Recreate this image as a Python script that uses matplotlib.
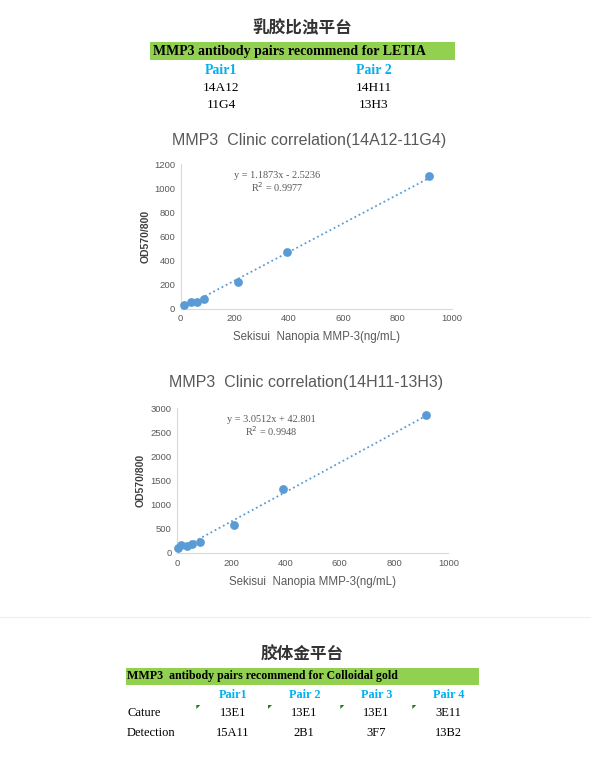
import matplotlib
matplotlib.use("Agg")
import matplotlib.pyplot as plt
from matplotlib.patches import Rectangle, Polygon
from matplotlib.lines import Line2D
import numpy as np

# ---------------- data ----------------
conc1 = [13, 38, 59, 87, 210, 391, 917]
od1 = [31, 55, 52, 80, 222, 474, 1100]
slope1, intercept1, r2_1 = 1.1873, -2.5236, 0.9977

conc2 = [2, 15, 38, 56, 85, 211, 392, 917]
od2 = [97, 160, 140, 185, 230, 585, 1320, 2870]
slope2, intercept2, r2_2 = 3.0512, 42.801, 0.9948

xticks = [0, 200, 400, 600, 800, 1000]
yticks1 = [0, 200, 400, 600, 800, 1000, 1200]
yticks2 = [0, 500, 1000, 1500, 2000, 2500, 3000]

letia_pairs = ["Pair1", "Pair 2"]
letia_capture = ["14A12", "14H11"]
letia_detect = ["11G4", "13H3"]

gold_pairs = ["Pair1", "Pair 2", "Pair 3", "Pair 4"]
gold_capture = ["13E1", "13E1", "13E1", "3E11"]
gold_detect = ["15A11", "2B1", "3F7", "13B2"]
gold_rows = ["Cature", "Detection"]

# ---------------- style ----------------
W, H = 591, 760
fig = plt.figure(figsize=(W / 100, H / 100), dpi=100)
fig.patch.set_facecolor("white")

BLUE = "#5B9BD5"
GRAY = "#595959"
GREEN = "#92D050"
CYAN = "#00B0F0"
SERIF = ["Liberation Serif", "DejaVu Serif"]
SANS = ["Liberation Sans", "DejaVu Sans"]
CJK = ["Noto Sans CJK SC", "DejaVu Sans"]


def fx(x):
    return x / W


def fy(y):
    return 1 - y / H


def ftext(x, y, s, **kw):
    kw.setdefault("ha", "center")
    kw.setdefault("va", "center")
    fig.text(fx(x), fy(y), s, **kw)


def frect(x0, y0, x1, y1, color):
    fig.add_artist(Rectangle((fx(x0), fy(y1)), fx(x1) - fx(x0), fy(y0) - fy(y1),
                             transform=fig.transFigure, facecolor=color,
                             edgecolor="none", zorder=0))


# ---------------- top section (LETIA) ----------------
ftext(302.5, 28, "乳胶比浊平台", family=CJK, fontsize=12, fontweight="bold", color="#333333")
frect(150, 42, 455, 59.5, GREEN)
ftext(153, 51.5, "MMP3 antibody pairs recommend for LETIA", ha="left",
      family=SERIF, fontsize=10, fontweight="bold", color="black")
letia_x = [221, 373.5]
for i, x in enumerate(letia_x):
    ftext(x, 70, letia_pairs[i], family=SERIF, fontsize=10, fontweight="bold", color=CYAN)
    ftext(x, 88, letia_capture[i], family=SERIF, fontsize=9.6, color="black")
    ftext(x, 105.5, letia_detect[i], family=SERIF, fontsize=9.6, color="black")


# ---------------- charts ----------------
def make_chart(rect_px, conc, od, slope, intercept, r2, ylim, yticks, title,
               title_xy, eq_xy, ylabel_x, xlabel_y):
    left, right, bottom, top = rect_px
    ax = fig.add_axes([fx(left), fy(bottom), fx(right) - fx(left), fy(top) - fy(bottom)])
    ax.set_xlim(0, 1000)
    ax.set_ylim(*ylim)
    ax.set_xticks(xticks)
    ax.set_yticks(yticks)
    ax.tick_params(length=0, labelsize=6.8, labelcolor=GRAY, pad=4)
    for lab in ax.get_xticklabels() + ax.get_yticklabels():
        lab.set_family(SANS)
    for side in ["top", "right"]:
        ax.spines[side].set_visible(False)
    for side in ["left", "bottom"]:
        ax.spines[side].set_color("#D9D9D9")
        ax.spines[side].set_linewidth(0.8)
    ax.patch.set_alpha(0)
    xs = np.array([min(conc), max(conc)])
    ax.plot(xs, slope * xs + intercept, color=BLUE, lw=1.3,
            linestyle=(0, (1, 1.6)), zorder=2)
    sc = ax.scatter(conc, od, s=40, color=BLUE, zorder=3, linewidths=0)
    sc.set_clip_on(False)

    ftext(title_xy[0], title_xy[1], title, family=SANS, fontsize=11.5, color=GRAY)
    sign = "-" if intercept < 0 else "+"
    ftext(eq_xy[0], eq_xy[1], f"y = {slope}x {sign} {abs(intercept)}",
          family=SERIF, fontsize=7.4, color=GRAY)
    ftext(eq_xy[0], eq_xy[1] + 12.5, f"R$^2$ = {r2}", family=SERIF, fontsize=7.4,
          color=GRAY)
    ftext(ylabel_x, (top + bottom) / 2, "OD570/800", family=SANS, fontsize=7.5,
          fontweight="bold", color="#404040", rotation=90)
    ftext((left + right) / 2, xlabel_y, "Sekisui  Nanopia MMP-3(ng/mL)",
          family=SANS, fontsize=8.3, color=GRAY)
    return ax


make_chart((180.7, 451.7, 308.7, 164.3), conc1, od1, slope1, intercept1, r2_1,
           (0, 1200), yticks1, "MMP3  Clinic correlation(14A12-11G4)", (309.5, 140),
           (277, 175), 146, 337)
make_chart((177, 448.3, 553, 408.3), conc2, od2, slope2, intercept2, r2_2,
           (0, 3000), yticks2, "MMP3  Clinic correlation(14H11-13H3)", (306, 383),
           (271, 419), 141, 582)

# separator
fig.add_artist(Line2D([0, 1], [fy(617), fy(617)], transform=fig.transFigure,
                      color="#EEEEEE", lw=0.8))

# ---------------- bottom section (Colloidal gold) ----------------
ftext(302.5, 655, "胶体金平台", family=CJK, fontsize=12, fontweight="bold", color="#333333")
frect(126, 668, 479.3, 685, GREEN)
ftext(127, 676, "MMP3  antibody pairs recommend for Colloidal gold", ha="left",
      family=SERIF, fontsize=8.6, fontweight="bold", color="black")
gold_x = [232.7, 304.3, 376.5, 448.3]
tri_x = [198.3, 270, 342.3, 414.3]
for i, x in enumerate(gold_x):
    ftext(x, 695, gold_pairs[i], family=SERIF, fontsize=8.8, fontweight="bold", color=CYAN)
    ftext(x, 713.5, gold_capture[i], family=SERIF, fontsize=9, color="black")
    ftext(x, 732.5, gold_detect[i], family=SERIF, fontsize=9, color="black")
    tx = tri_x[i] - 2
    ty = 705
    fig.add_artist(Polygon([(fx(tx), fy(ty)), (fx(tx + 4), fy(ty)), (fx(tx), fy(ty + 4))],
                           closed=True, transform=fig.transFigure,
                           facecolor="#1E7B1E", edgecolor="none"))
ftext(127, 713.5, gold_rows[0], ha="left", family=SERIF, fontsize=9, color="black")
ftext(127, 732.5, gold_rows[1], ha="left", family=SERIF, fontsize=9, color="black")

fig.savefig("out.png", dpi=100, facecolor="white")
